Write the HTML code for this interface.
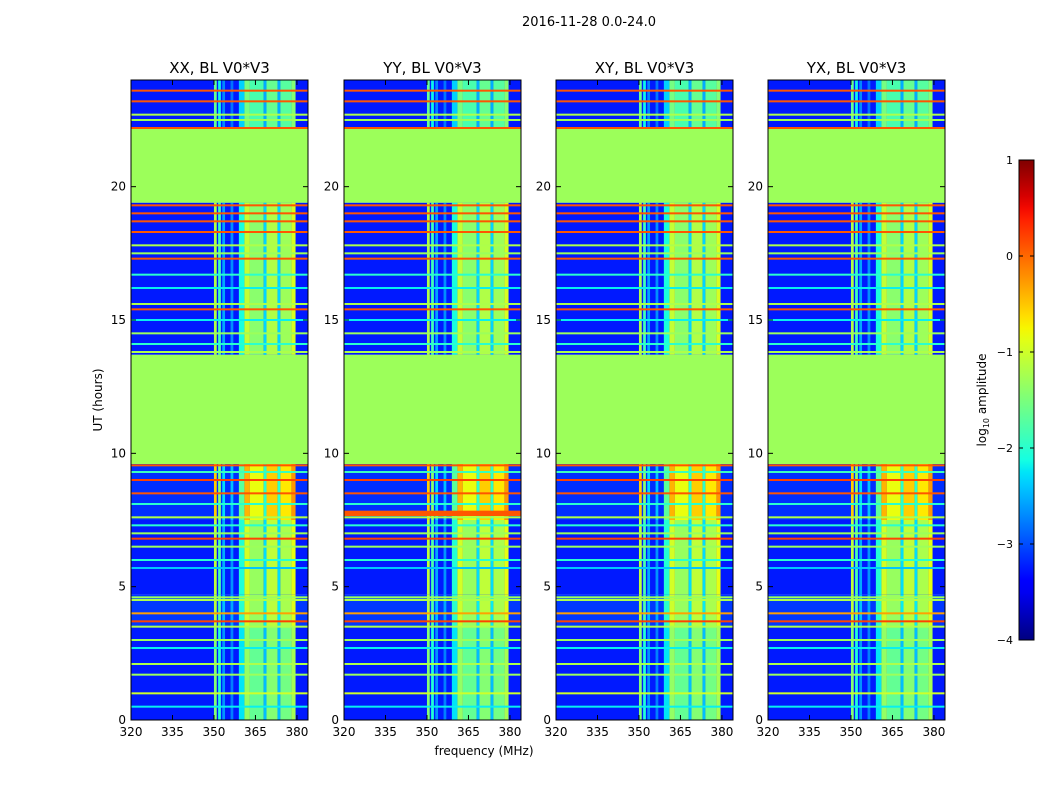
<!DOCTYPE html>
<html><head><meta charset="utf-8"><style>
body{margin:0;background:#fff;}
svg text{font-family:"DejaVu Sans","Liberation Sans",sans-serif;}
</style></head><body>
<svg id="fig" width="1050" height="800" xmlns="http://www.w3.org/2000/svg">
<rect width="1050" height="800" fill="#fff"/>
<text x="589" y="26" font-size="13" text-anchor="middle">2016-11-28 0.0-24.0</text>
<text x="484" y="755" font-size="12" text-anchor="middle">frequency (MHz)</text>
<text transform="translate(102,400) rotate(-90)" font-size="12" text-anchor="middle">UT (hours)</text>
<text transform="translate(986,400) rotate(-90)" font-size="12" text-anchor="middle">log<tspan font-size="8" dy="3">10</tspan><tspan dy="-3"> amplitude</tspan></text>
</svg>
<script>
// ---- data ----
const panelTitles = ["XX, BL V0*V3","YY, BL V0*V3","XY, BL V0*V3","YX, BL V0*V3"];
const xTicks = [320,335,350,365,380];
const yTicks = [0,5,10,15,20];
const cbTicks = [1,0,-1,-2,-3,-4];
// time segments: start hour, end hour, base log amplitude, rfi strength (-1 = flat)
const segStart = [0,3.5,4.7,7.5,9.6,13.7,19.4,22.2];
const segEnd   = [3.5,4.7,7.5,9.6,13.7,19.4,22.2,24];
const segBase  = [-3.25,-3.1,-3.25,-3.15,-1.3,-3.25,-1.3,-3.25];
const segRfi   = [1.0,1.1,1.2,1.45,-1,1.15,-1,0.9];
// frequency RFI channels: start MHz, end MHz, boost
const chStart = [350,351.5,353,356,359,361,363,368,369,373,374,378];
const chEnd   = [351,352.5,354,357,361,363,368,369,373,374,378,379.5];
const chBoost = [1.8,1.2,0.6,0.5,1.0,1.9,1.6,0.8,1.8,0.8,1.7,2.0];
// horizontal broadband lines: hour, level
const lineHour = [0.5,1.0,1.7,2.1,2.7,3.0,3.5,3.7,4.0,4.5,4.6,5.7,6.0,6.5,6.8,7.0,7.3,7.6,8.1,8.5,9.0,9.3,9.55,13.8,14.1,14.5,15.0,15.4,15.6,16.2,16.7,17.3,17.5,17.8,18.3,18.7,19.0,19.3,22.2,22.5,22.7,23.2,23.6];
const lineLevel= [-2.2,-1.0,-1.3,-1.2,-2.2,-1.3,-1.2,0.2,-0.3,-1.2,-1.3,-2.4,-2.0,-1.3,0.2,-1.3,-2.0,-1.2,-2.0,0.1,0.2,-1.9,0.1,-1.2,-2.0,-1.3,-2.2,0.1,-1.2,-2.2,-2.0,0.1,-1.3,-1.2,0.1,0.1,0.1,0.1,0.1,-1.3,-1.2,0.1,0.1];
// ---- layout ----
const panelX = [131,344,556,768];
const PW = 177, PT = 80, PB = 720;
const fMin = 320, fMax = 384;
const NS = "http://www.w3.org/2000/svg";
const svg = document.getElementById('fig');
function seg(t, pts){
  for(let i=1;i<pts.length;i++){
    if(t<=pts[i][0]){const a=pts[i-1],b=pts[i];return a[1]+(b[1]-a[1])*(t-a[0])/(b[0]-a[0]);}
  }
  return pts[pts.length-1][1];
}
function jet(v){ // matplotlib jet, v in [-4,1]
  const t = Math.max(0,Math.min(1,(v+4)/5));
  const r = seg(t,[[0,0],[0.35,0],[0.66,1],[0.89,1],[1,0.5]]);
  const g = seg(t,[[0,0],[0.125,0],[0.375,1],[0.64,1],[0.91,0],[1,0]]);
  const b = seg(t,[[0,0.5],[0.11,1],[0.34,1],[0.65,0],[1,0]]);
  return `rgb(${Math.round(r*255)},${Math.round(g*255)},${Math.round(b*255)})`;
}
function el(tag, attrs, parent){ const e=document.createElementNS(NS,tag); for(const k in attrs) e.setAttribute(k,attrs[k]); (parent||svg).appendChild(e); return e; }
const yScale = h => PB - (h/24)*(PB-PT);
panelX.forEach((x0,p)=>{
  const xScale = f => x0 + (f-fMin)/(fMax-fMin)*PW;
  const g = el('g',{});
  
  
  for(let i=0;i<segStart.length;i++){
    const y1=yScale(segEnd[i]), y2=yScale(segStart[i]);
    const r = el('rect',{x:x0,y:y1,width:PW,height:y2-y1,fill:jet(segBase[i])},g);
    
    
    if(segRfi[i]<0) continue;
    for(let j=0;j<chStart.length;j++){
      const c = el('rect',{x:xScale(chStart[j]),y:y1,width:xScale(chEnd[j])-xScale(chStart[j]),height:y2-y1,fill:jet(segBase[i]+chBoost[j]*segRfi[i])},g);
      
      
    }
  }
  for(let k=0;k<lineHour.length;k++){
    const l = el('rect',{x:x0,y:yScale(lineHour[k])-1,width:PW,height:2,fill:jet(lineLevel[k])},g);
    
    
  }
  if(p===1){
    const b = el('rect',{x:x0,y:yScale(7.85),width:PW,height:yScale(7.65)-yScale(7.85),fill:jet(0.1)},g);
    
    
  }
  const fr = el('rect',{x:x0,y:PT,width:PW,height:PB-PT,fill:'none',stroke:'#000','stroke-width':1},g);
  
  
  const t = el('text',{x:x0+PW/2,y:73,'font-size':15,'text-anchor':'middle'},g);
  t.textContent = panelTitles[p];
  
  
  xTicks.forEach(f=>{
    const xx=xScale(f);
    el('line',{x1:xx,x2:xx,y1:PB,y2:PB-5,stroke:'#000'},g);
    el('line',{x1:xx,x2:xx,y1:PT,y2:PT+5,stroke:'#000'},g);
    const tl = el('text',{x:xx,y:PB+16,'font-size':12,'text-anchor':'middle'},g);
    tl.textContent=f;
    
    
  });
  yTicks.forEach(h=>{
    const yy=yScale(h);
    el('line',{x1:x0,x2:x0+5,y1:yy,y2:yy,stroke:'#000'},g);
    el('line',{x1:x0+PW,x2:x0+PW-5,y1:yy,y2:yy,stroke:'#000'},g);
    const tl = el('text',{x:x0-5,y:yy+4,'font-size':12,'text-anchor':'end'},g);
    tl.textContent=h;
    
    
  });
});
// colorbar
const CBX=1019, CBW=15, CBT=160, CBB=640;
const defs = el('defs',{});
const grad = el('linearGradient',{id:'jetg',x1:0,y1:1,x2:0,y2:0},defs);
for(let i=0;i<=40;i++){ el('stop',{offset:(i/40),'stop-color':jet(-4+5*i/40)},grad); }
const cb = el('rect',{x:CBX,y:CBT,width:CBW,height:CBB-CBT,fill:'url(#jetg)',stroke:'#000'});


const cbScale = v => CBB - (v+4)/5*(CBB-CBT);
cbTicks.forEach(v=>{
  const yy=cbScale(v);
  el('line',{x1:CBX,x2:CBX+4,y1:yy,y2:yy,stroke:'#000'});
  el('line',{x1:CBX+CBW,x2:CBX+CBW-4,y1:yy,y2:yy,stroke:'#000'});
  const tl = el('text',{x:CBX-6,y:yy+4,'font-size':11,'text-anchor':'end'});
  tl.textContent = v<0 ? '\u2212'+(-v) : String(v);
  
  
});
</script>
</body></html>
